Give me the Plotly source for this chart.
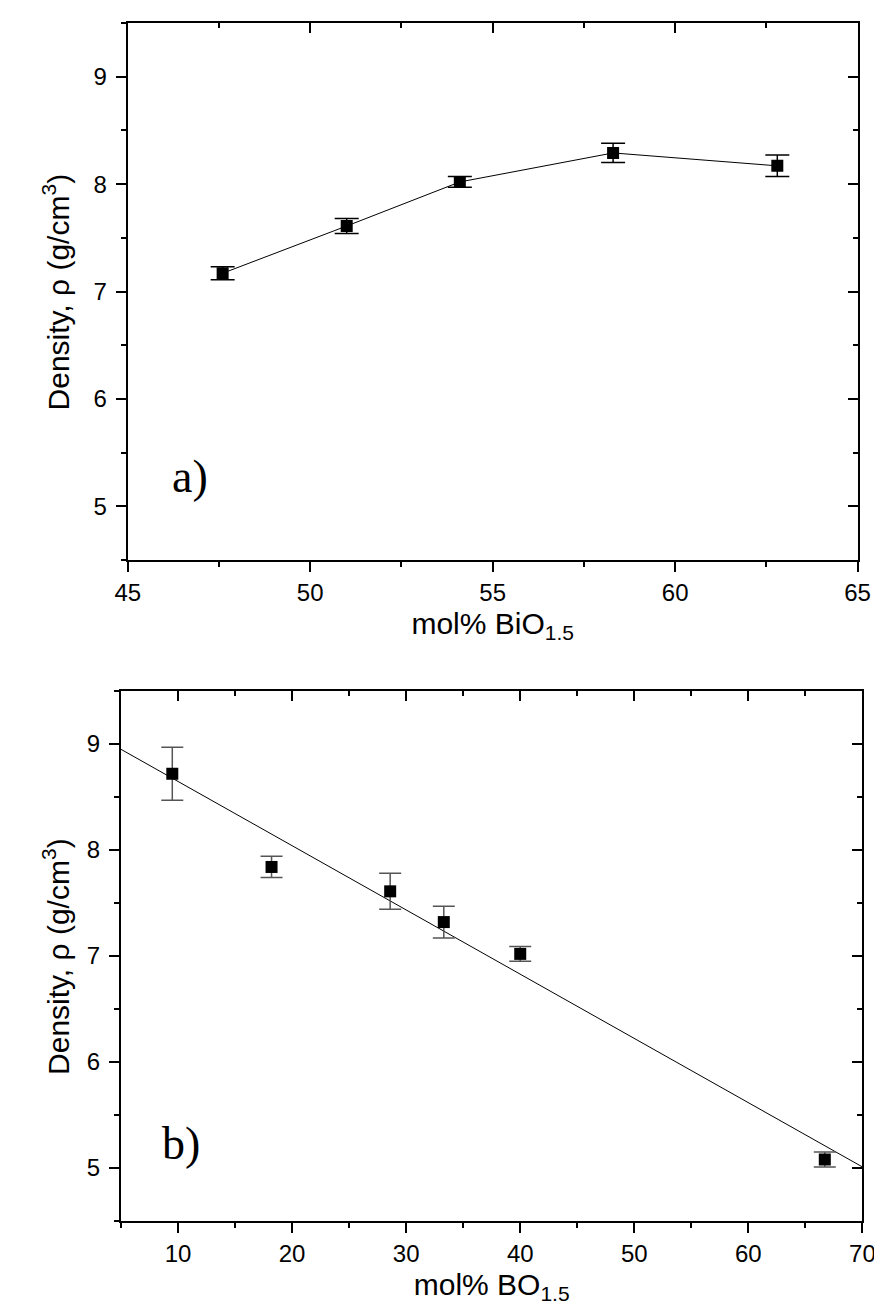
import plotly.graph_objects as go

# ---- panel a) data ----
bi_x = [47.6, 51.0, 54.1, 58.3, 62.8]
bi_density = [7.17, 7.61, 8.02, 8.29, 8.17]
bi_err = [0.06, 0.07, 0.05, 0.09, 0.10]

# ---- panel b) data ----
b_x = [9.5, 18.2, 28.6, 33.3, 40.0, 66.7]
b_density = [8.72, 7.84, 7.61, 7.32, 7.02, 5.08]
b_err = [0.25, 0.10, 0.17, 0.15, 0.07, 0.07]

# linear fit line shown in panel b) (end points read from the picture)
fit_x = [5, 70]
fit_y = [8.95, 5.01]

xticks_a = [45, 50, 55, 60, 65]
xticks_b = [10, 20, 30, 40, 50, 60, 70]
yticks = [5, 6, 7, 8, 9]

W, H = 882, 1304
FONT = "Liberation Sans, Arial, sans-serif"
SERIF = "Liberation Serif, Times New Roman, serif"
YTITLE = "Density, ρ (g/cm<sup>3</sup>)"

fig = go.Figure()

fig.add_trace(go.Scatter(
    x=bi_x, y=bi_density, mode="lines+markers",
    line=dict(color="black", width=1),
    marker=dict(symbol="square", size=12, color="black"),
    error_y=dict(type="data", array=bi_err, color="black", thickness=1.5, width=12),
    xaxis="x", yaxis="y", showlegend=False))

fig.add_trace(go.Scatter(
    x=fit_x, y=fit_y, mode="lines",
    line=dict(color="black", width=1),
    xaxis="x2", yaxis="y2", showlegend=False))

fig.add_trace(go.Scatter(
    x=b_x, y=b_density, mode="markers",
    marker=dict(symbol="square", size=12, color="black"),
    error_y=dict(type="data", array=b_err, color="#555555", thickness=1.5, width=11),
    xaxis="x2", yaxis="y2", showlegend=False))

# empty traces to make sure the mirror axes are drawn
fig.add_trace(go.Scatter(x=[], y=[], xaxis="x3", yaxis="y3", showlegend=False))
fig.add_trace(go.Scatter(x=[], y=[], xaxis="x4", yaxis="y4", showlegend=False))

dom_ya = [1 - 552 / H, 1 - 15 / H]
dom_yb = [1 - 1213 / H, 1 - 683 / H]
dom_xa = [110 / W, 862 / W]
dom_xb = [103 / W, 867 / W]

common = dict(showgrid=False, zeroline=False, showline=True, linecolor="black",
              linewidth=2, tickcolor="black", tickwidth=2,
              tickfont=dict(family=FONT, size=24, color="black"))


def minor(d, t0, side):
    return dict(dtick=d, tick0=t0, ticks=side, ticklen=5, tickwidth=2, tickcolor="black")


fig.update_layout(
    width=W, height=H,
    margin=dict(l=0, r=0, t=0, b=0),
    paper_bgcolor="white", plot_bgcolor="white",
    xaxis=dict(domain=dom_xa, anchor="y", range=[45, 65], tickvals=xticks_a,
               ticks="outside", ticklen=10, minor=minor(2.5, 45, "outside"),
               title=dict(text="mol% BiO<sub>1.5</sub>", font=dict(family=FONT, size=30, color="black"), standoff=8),
               **common),
    yaxis=dict(domain=dom_ya, anchor="x", range=[4.5, 9.5], tickvals=yticks,
               ticks="outside", ticklen=10, ticklabelstandoff=4, minor=minor(0.5, 4.5, "outside"),
               **common),
    xaxis3=dict(overlaying="x", anchor="y", side="top", range=[45, 65], tickvals=xticks_a,
                ticks="inside", ticklen=10, showticklabels=False, minor=minor(2.5, 45, "inside"),
                **common),
    yaxis3=dict(overlaying="y", anchor="x", side="right", range=[4.5, 9.5], tickvals=yticks,
                ticks="inside", ticklen=10, showticklabels=False, minor=minor(0.5, 4.5, "inside"),
                **common),
    xaxis2=dict(domain=dom_xb, anchor="y2", range=[5, 70], tickvals=xticks_b,
                ticks="outside", ticklen=10, minor=minor(5, 5, "outside"),
                title=dict(text="mol% BO<sub>1.5</sub>", font=dict(family=FONT, size=30, color="black"), standoff=8),
                **common),
    yaxis2=dict(domain=dom_yb, anchor="x2", range=[4.5, 9.5], tickvals=yticks,
                ticks="outside", ticklen=10, ticklabelstandoff=4, minor=minor(0.5, 4.5, "outside"),
                **common),
    xaxis4=dict(overlaying="x2", anchor="y2", side="top", range=[5, 70], tickvals=xticks_b,
                ticks="inside", ticklen=10, showticklabels=False, minor=minor(5, 5, "inside"),
                **common),
    yaxis4=dict(overlaying="y2", anchor="x2", side="right", range=[4.5, 9.5], tickvals=yticks,
                ticks="inside", ticklen=10, showticklabels=False, minor=minor(0.5, 4.5, "inside"),
                **common),
    annotations=[
        dict(text="a)", x=46.7, y=5.28, xref="x", yref="y", showarrow=False,
             font=dict(family=SERIF, size=46, color="black")),
        dict(text="b)", x=10.3, y=5.23, xref="x2", yref="y2", showarrow=False,
             font=dict(family=SERIF, size=46, color="black")),
        dict(text=YTITLE, textangle=-90, showarrow=False,
             xref="paper", yref="paper", x=36 / W, y=sum(dom_ya) / 2,
             xanchor="center", yanchor="middle",
             font=dict(family=FONT, size=30, color="black")),
        dict(text=YTITLE, textangle=-90, showarrow=False,
             xref="paper", yref="paper", x=36 / W, y=sum(dom_yb) / 2,
             xanchor="center", yanchor="middle",
             font=dict(family=FONT, size=30, color="black")),
    ],
)

fig.write_html("out.html")
